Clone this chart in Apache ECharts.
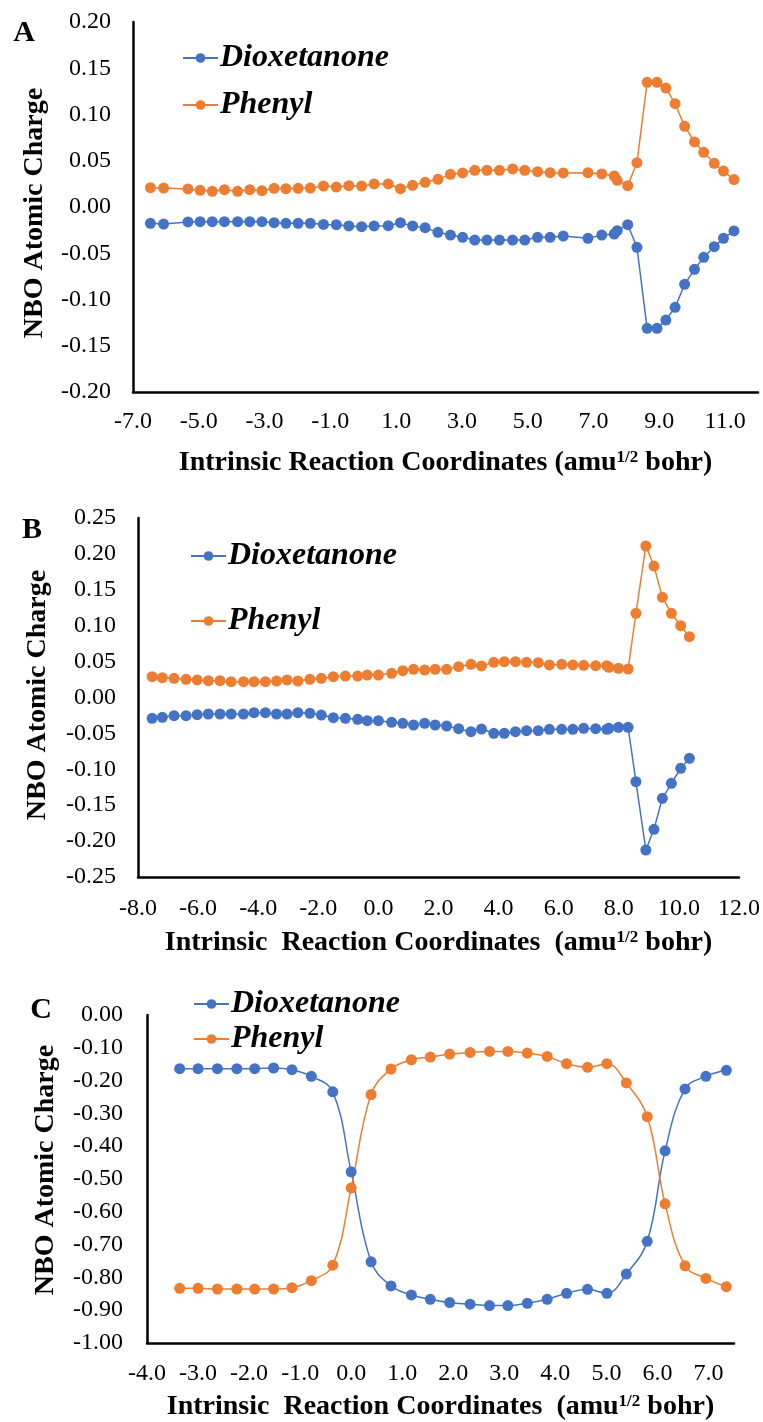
<!DOCTYPE html>
<html>
<head>
<meta charset="utf-8">
<script src="https://cdn.jsdelivr.net/npm/echarts@6/dist/echarts.min.js"></script>
<style>html,body{margin:0;padding:0;background:#fff;}#c{width:763px;height:1422px;}</style>
</head>
<body>
<div id="c"></div>
<script>
// Panel A
const aX = [-6.47,-6.07,-5.33,-4.96,-4.59,-4.22,-3.82,-3.45,-3.08,-2.71,-2.35,-1.98,-1.61,-1.21,-0.82,-0.44,-0.05,0.33,0.76,1.13,1.50,1.88,2.27,2.65,3.02,3.39,3.76,4.14,4.54,4.91,5.30,5.68,6.08,6.83,7.25,7.63,7.72,8.04,8.32,8.63,8.93,9.20,9.48,9.77,10.07,10.35,10.67,10.95,11.27];
const aDiox = [-0.0177,-0.0184,-0.0162,-0.0159,-0.0159,-0.0159,-0.0159,-0.0159,-0.0159,-0.0170,-0.0177,-0.0177,-0.0177,-0.0188,-0.0191,-0.0205,-0.0213,-0.0205,-0.0202,-0.0170,-0.0205,-0.0223,-0.0274,-0.0303,-0.0328,-0.0357,-0.0357,-0.0357,-0.0357,-0.0357,-0.0328,-0.0328,-0.0314,-0.0339,-0.0303,-0.0292,-0.0256,-0.0191,-0.0436,-0.1312,-0.1312,-0.1222,-0.1085,-0.0836,-0.0674,-0.0544,-0.0429,-0.0339,-0.0259];
const aPhen = [0.0209,0.0205,0.0195,0.0180,0.0169,0.0187,0.0169,0.0187,0.0177,0.0202,0.0198,0.0202,0.0205,0.0227,0.0216,0.0231,0.0227,0.0249,0.0249,0.0198,0.0234,0.0267,0.0299,0.0353,0.0368,0.0396,0.0396,0.0396,0.0411,0.0396,0.0382,0.0371,0.0368,0.0371,0.0357,0.0335,0.0288,0.0231,0.0479,0.1348,0.1348,0.1286,0.1117,0.0872,0.0703,0.0591,0.0472,0.0389,0.0296];
// Panel B
const bX = [-7.53,-7.19,-6.80,-6.40,-6.03,-5.66,-5.27,-4.90,-4.49,-4.14,-3.76,-3.39,-3.04,-2.68,-2.28,-1.90,-1.50,-1.10,-0.69,-0.37,0.00,0.44,0.81,1.17,1.54,1.89,2.27,2.67,3.08,3.43,3.84,4.19,4.56,4.93,5.32,5.69,6.10,6.47,6.83,7.23,7.60,7.67,7.99,8.31,8.57,8.90,9.17,9.45,9.75,10.06,10.35];
const bDiox = [-0.0290,-0.0276,-0.0253,-0.0253,-0.0239,-0.0230,-0.0230,-0.0230,-0.0230,-0.0211,-0.0211,-0.0230,-0.0230,-0.0211,-0.0220,-0.0244,-0.0281,-0.0290,-0.0304,-0.0323,-0.0323,-0.0346,-0.0360,-0.0383,-0.0360,-0.0383,-0.0397,-0.0434,-0.0476,-0.0439,-0.0499,-0.0499,-0.0476,-0.0462,-0.0462,-0.0443,-0.0443,-0.0443,-0.0429,-0.0434,-0.0443,-0.0429,-0.0416,-0.0416,-0.1172,-0.2124,-0.1836,-0.1404,-0.1196,-0.0987,-0.0847];
const bPhen = [0.0290,0.0276,0.0267,0.0253,0.0244,0.0234,0.0234,0.0220,0.0220,0.0220,0.0220,0.0230,0.0244,0.0230,0.0253,0.0267,0.0290,0.0299,0.0299,0.0313,0.0313,0.0337,0.0373,0.0393,0.0383,0.0393,0.0393,0.0429,0.0462,0.0439,0.0490,0.0499,0.0499,0.0490,0.0485,0.0453,0.0462,0.0453,0.0448,0.0443,0.0443,0.0420,0.0406,0.0397,0.1173,0.2110,0.1831,0.1396,0.1173,0.1000,0.0847];
// Panel C
const cX = [-3.36,-3.00,-2.62,-2.24,-1.89,-1.52,-1.16,-0.78,-0.36,0.00,0.39,0.78,1.18,1.55,1.93,2.33,2.71,3.07,3.45,3.84,4.22,4.63,5.01,5.39,5.80,6.15,6.54,6.95,7.35];
const cDiox = [-0.1636,-0.1636,-0.1636,-0.1636,-0.1636,-0.1616,-0.1667,-0.1869,-0.2343,-0.4780,-0.7525,-0.8260,-0.8535,-0.8667,-0.8768,-0.8818,-0.8859,-0.8859,-0.8788,-0.8667,-0.8485,-0.8364,-0.8485,-0.7900,-0.6900,-0.4141,-0.2253,-0.1869,-0.1687];
const cPhen = [-0.8333,-0.8333,-0.8354,-0.8354,-0.8354,-0.8354,-0.8313,-0.8100,-0.7626,-0.5273,-0.2424,-0.1646,-0.1364,-0.1283,-0.1192,-0.1141,-0.1111,-0.1111,-0.1162,-0.1263,-0.1485,-0.1596,-0.1485,-0.2071,-0.3101,-0.5758,-0.7646,-0.8030,-0.8283];

const seriesNames = ['Dioxetanone', 'Phenyl'];
const panelLetters = ['A', 'B', 'C'];
const yTitle = 'NBO Atomic Charge';

const BLUE = '#4472C4', ORANGE = '#ED7D31';
const FONT = '"Liberation Serif","Times New Roman",serif';

function pairs(xs, ys) { return xs.map((x, i) => [x, ys[i]]); }

const grids = [
  {left: 133, top: 22, width: 625, height: 370},
  {left: 138, top: 518, width: 604, height: 359},
  {left: 147, top: 1015, width: 587, height: 330}
];

const yFmt = v => (Math.abs(v) < 1e-9 ? 0 : v).toFixed(2);
const xFmt = v => (Math.abs(v) < 1e-9 ? 0 : v).toFixed(1);

const xName = ['{t|Intrinsic Reaction Coordinates (amu}{s|1/2}{t| bohr)}',
               '{t|Intrinsic  Reaction Coordinates  (amu}{s|1/2}{t| bohr)}',
               '{t|Intrinsic  Reaction Coordinates  (amu}{s|1/2}{t| bohr)}'];
const xRanges = [[-7, 12, 2, false], [-8, 12, 2, true], [-4, 7.5, 1, false]];
const yRanges = [[-0.2, 0.2, 0.05], [-0.25, 0.25, 0.05], [-1, 0, 0.1]];
const nameGaps = [57, 52, 50];
const xMargins = [18, 20, 19];
const yMargins = [22, 22, 24];

const xAxes = xRanges.map((r, i) => ({
  type: 'value', gridIndex: i, min: r[0], max: r[1], interval: r[2],
  axisLine: {onZero: false, lineStyle: {color: '#000', width: 2.5}},
  axisTick: {show: false}, splitLine: {show: false},
  axisLabel: {fontFamily: FONT, fontSize: 24, color: '#000', margin: xMargins[i], formatter: xFmt, showMaxLabel: r[3], showMinLabel: true},
  name: xName[i], nameLocation: 'middle', nameGap: nameGaps[i],
  nameTextStyle: {rich: {
    t: {fontFamily: FONT, fontSize: 28, fontWeight: 'bold', color: '#000'},
    s: {fontFamily: FONT, fontSize: 17, fontWeight: 'bold', color: '#000', verticalAlign: 'top', padding: [0,0,11,0]}
  }}
}));
const yAxes = yRanges.map((r, i) => ({
  type: 'value', gridIndex: i, min: r[0], max: r[1], interval: r[2],
  axisLine: {show: true, onZero: false, lineStyle: {color: '#000', width: 2.5}},
  axisTick: {show: false}, splitLine: {show: false},
  axisLabel: {fontFamily: FONT, fontSize: 24, color: '#000', margin: yMargins[i], formatter: yFmt}
}));

const panelData = [[aX, aDiox, aPhen, false], [bX, bDiox, bPhen, false], [cX, cDiox, cPhen, 0.4]];
const series = [];
panelData.forEach((p, i) => {
  [[p[1], BLUE, 0], [p[2], ORANGE, 1]].forEach(s => {
    series.push({
      type: 'line', name: seriesNames[s[2]], xAxisIndex: i, yAxisIndex: i,
      data: pairs(p[0], s[0]), smooth: p[3],
      symbol: 'circle', symbolSize: 11, showSymbol: true,
      itemStyle: {color: s[1]}, lineStyle: {color: s[1], width: 1.5},
      animation: false
    });
  });
});

const legendPos = [{left: 177, top: 37, itemGap: 15}, {left: 185, top: 535, itemGap: 33}, {left: 188, top: 983, itemGap: 3}];
const legends = legendPos.map(p => ({
  orient: 'vertical', left: p.left, top: p.top, itemGap: p.itemGap,
  itemWidth: 35, itemHeight: 12, data: seriesNames, selectedMode: false,
  textStyle: {fontFamily: FONT, fontSize: 32, fontWeight: 'bold', fontStyle: 'italic', color: '#000', lineHeight: 32, padding: [0,0,0,-3]}
}));

const letterPos = [[24, 33], [32, 530], [41, 1010]];
const yTitlePos = [[35, 213], [38, 695], [46, 1170]];
const graphic = [];
letterPos.forEach((p, i) => graphic.push({
  type: 'text', x: p[0], y: p[1],
  style: {text: panelLetters[i], font: 'bold 30px ' + FONT, fill: '#000', textAlign: 'center', textVerticalAlign: 'middle'}
}));
yTitlePos.forEach(p => graphic.push({
  type: 'text', x: p[0], y: p[1], rotation: Math.PI / 2,
  style: {text: yTitle, font: 'bold 28px ' + FONT, fill: '#000', textAlign: 'center', textVerticalAlign: 'middle'}
}));

const chart = echarts.init(document.getElementById('c'), null, {renderer: 'canvas'});
chart.setOption({
  animation: false,
  backgroundColor: '#fff',
  grid: grids, xAxis: xAxes, yAxis: yAxes, series: series, legend: legends, graphic: graphic
});
</script>
</body>
</html>
